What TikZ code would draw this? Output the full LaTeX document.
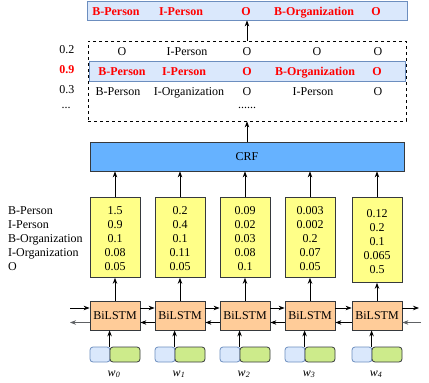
\documentclass[tikz,border=0pt]{standalone}
\usepackage{fontspec}
\setmainfont{Liberation Serif}
\usetikzlibrary{arrows.meta,positioning,calc}
\definecolor{paleblue}{HTML}{DAE8FC}
\definecolor{edgeblue}{HTML}{6C8EBF}
\definecolor{crfblue}{HTML}{66B2FF}
\definecolor{lemon}{HTML}{FFFF88}
\definecolor{peach}{HTML}{FFCC99}
\definecolor{lime}{HTML}{CDEB8B}
\definecolor{ink}{HTML}{36393D}
\definecolor{hot}{HTML}{FF0000}

\begin{document}
\begin{tikzpicture}[x=1pt,y=-1pt,
   box/.style={draw=ink,fill=#1,inner sep=0pt,line width=0.8pt},
   lab/.style={font=\fontsize{12}{14}\selectfont,inner sep=0pt,anchor=base},
   tag/.style={lab,font=\fontsize{12}{14}\selectfont\bfseries,text=hot},
   up/.style={-{Stealth[length=6pt,width=4.5pt]},line width=0.8pt}]
  \useasboundingbox (0,0) rectangle (429,383);
  % best path on top
  \node[box=paleblue,draw=edgeblue,minimum width=320pt,minimum height=19pt] (best) at (247,10.5) {};
  \foreach \x/\t [count=\i] in {116/B-Person,181/I-Person,246/O,314/B-Organization,376/O}
    \node[tag] (best\i) at (\x,15) {\t};
  % candidate paths
  \node[draw=black,dash pattern=on 3pt off 3pt,line width=0.8pt,inner sep=0pt,
        minimum width=318pt,minimum height=80pt] (paths) at (247,81) {};
  \node[box=paleblue,draw=edgeblue,minimum width=316pt,minimum height=20pt] (pick) at (247,71) {};
  \foreach \x/\t [count=\i] in {122/O,187/I-Person,247/O,317/O,378/O}
    \node[lab] (pa\i) at (\x,55) {\t};
  \foreach \x/\t [count=\i] in {122/B-Person,184/I-Person,247/O,315/B-Organization,377/O}
    \node[tag] (pb\i) at (\x,75) {\t};
  \foreach \x/\t [count=\i] in {118/B-Person,189/I-Organization,247/O,313/I-Person,378/O}
    \node[lab] (pc\i) at (\x,95) {\t};
  \node[lab] (pd) at (247,108) {......};
  % path scores
  \node[lab] (sa) at (67,53) {0.2};
  \node[tag] (sb) at (67,73) {0.9};
  \node[lab] (sc) at (67,93) {0.3};
  \node[lab] (sd) at (66,108) {...};
  % crf layer
  \node[box=crfblue,minimum width=314pt,minimum height=29pt,font=\fontsize{12}{14}\selectfont] (crf) at (247,156.5) {CRF};
  \draw[up] (crf.north) -- (paths.south);
  \draw[up] (paths.north) -- (best.south);
  % tag names
  \foreach \t [count=\j from 0] in {B-Person,I-Person,B-Organization,I-Organization,O}
    \node[lab,anchor=base west] (tn\j) at (8,214+14*\j) {\t};
  % emission scores, bilstm, embeddings
  \foreach \x/\h/\vals/\yy [count=\i from 0] in {
      115/80/{1.5,0.9,0.1,0.08,0.05}/214,
      180/80/{0.2,0.4,0.1,0.11,0.05}/214,
      245/80/{0.09,0.02,0.03,0.08,0.1}/214,
      310/80/{0.003,0.002,0.2,0.07,0.05}/214,
      377/85/{0.12,0.2,0.1,0.065,0.5}/217}{
    \node[box=lemon,minimum width=50pt,minimum height=\h pt,anchor=north] (e\i) at (\x,197) {};
    \foreach \v [count=\j from 0] in \vals
      \node[lab] (v\i-\j) at (\x,\yy+14*\j) {\v};
    \node[box=peach,minimum width=50pt,minimum height=29pt,font=\fontsize{12}{14}\selectfont] (l\i) at (\x,315.5) {BiLSTM};
    \node[box=paleblue,draw=edgeblue,rounded corners=3pt,minimum width=20pt,minimum height=15pt] (wb\i) at (\x-15,354.5) {};
    \node[box=lime,rounded corners=3pt,minimum width=30pt,minimum height=15pt] (wg\i) at (\x+10,354.5) {};
    \node[lab,font=\fontsize{12}{14}\selectfont\itshape] (w\i) at (\x-1,376) {w\textsubscript{\i}};
    \draw[up] (wg\i.north west) -- (wg\i.north west |- l\i.south);
    \draw[up] (l\i.north) -- (e\i.south);
    \draw[up] (e\i.north) -- (e\i.north |- crf.south);
  }
  % recurrent links
  \foreach \i/\j in {0/1,1/2,2/3,3/4}{
    \draw[up] ([yshift=7.5pt]l\i.east) -- ([yshift=7.5pt]l\j.west);
    \draw[up] ([yshift=-7pt]l\j.west) -- ([yshift=-7pt]l\i.east);
  }
  \coordinate (inL) at (70,308);
  \coordinate (outL) at (70,322.5);
  \coordinate (outR) at (419,308);
  \coordinate (inR) at (421,322.5);
  \draw[up] (inL) -- (inL -| l0.west);
  \draw[up,ink!80] (outL -| l0.west) -- (outL);
  \draw[up] (outR -| l4.east) -- (outR);
  \draw[up,ink!80] (inR) -- (inR -| l4.east);
\end{tikzpicture}
\end{document}
